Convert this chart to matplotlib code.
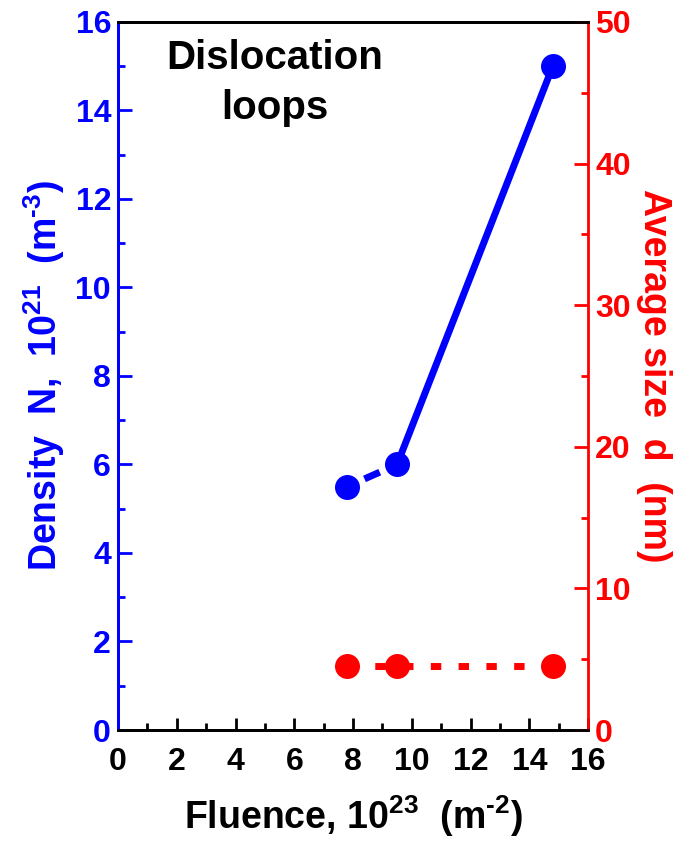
import matplotlib
matplotlib.use('Agg')
import matplotlib.pyplot as plt

plt.rcParams['font.family'] = ['Liberation Sans', 'DejaVu Sans']
plt.rcParams['font.weight'] = 'bold'
plt.rcParams['mathtext.fontset'] = 'custom'
plt.rcParams['mathtext.rm'] = 'Liberation Sans:bold'
plt.rcParams['mathtext.default'] = 'rm'

fluence = [7.8, 9.5, 14.8]          # 10^23 m^-2
density = [5.5, 6.0, 15.0]          # 10^21 m^-3
size_nm = [4.5, 4.5, 4.5]           # nm

x_ticks = [0, 2, 4, 6, 8, 10, 12, 14, 16]
n_ticks = [0, 2, 4, 6, 8, 10, 12, 14, 16]
d_ticks = [0, 10, 20, 30, 40, 50]

blue = '#0000ff'
red = '#ff0000'

fig = plt.figure(figsize=(6.83, 8.42), dpi=100)
ax = fig.add_axes([0.1728, 0.133, 0.6882, 0.841])
ax2 = ax.twinx()

# density: dashed first segment, solid afterwards
ax.plot(fluence[:2], density[:2], color=blue, lw=5, ls=(1.27, (2.4, 1.6)))
ax.plot(fluence[1:], density[1:], color=blue, lw=5, ls='-')
ax.plot(fluence, density, 'o', color=blue, ms=18, mec='none')

# average size
ax2.plot(fluence, size_nm, color=red, lw=5, ls=(0, (1.5, 2.5)))
ax2.plot(fluence, size_nm, 'o', color=red, ms=18, mec='none')

ax.set_xlim(0, 16)
ax.set_ylim(0, 16)
ax2.set_ylim(0, 50)
ax.set_xticks(x_ticks)
ax.set_xticks([1, 3, 5, 7, 9, 11, 13, 15], minor=True)
ax.set_yticks(n_ticks)
ax.set_yticks([1, 3, 5, 7, 9, 11, 13, 15], minor=True)
ax2.set_yticks(d_ticks)
ax2.set_yticks([5, 15, 25, 35, 45], minor=True)

ax.tick_params(axis='x', which='both', direction='in', colors='black', labelsize=23, width=2, pad=12)
ax.tick_params(axis='x', which='major', length=9)
ax.tick_params(axis='x', which='minor', length=5)
ax.tick_params(axis='y', which='both', direction='in', colors=blue, labelsize=23, width=2, pad=5)
ax.tick_params(axis='y', which='major', length=10)
ax.tick_params(axis='y', which='minor', length=5)
ax2.tick_params(axis='y', which='both', direction='in', colors=red, labelsize=23, width=2, pad=5)
ax2.tick_params(axis='y', which='major', length=10)
ax2.tick_params(axis='y', which='minor', length=5)
for lab in ax.get_xticklabels() + ax.get_yticklabels() + ax2.get_yticklabels():
    lab.set_fontweight('bold')

for a in (ax, ax2):
    a.spines['top'].set_color('black')
    a.spines['bottom'].set_color('black')
    for s in a.spines.values():
        s.set_linewidth(2)
ax.spines['left'].set_color(blue)
ax2.spines['left'].set_color(blue)
ax2.spines['right'].set_color(red)
ax.spines['right'].set_visible(False)

ax.set_xlabel(r'Fluence, 10$^{23}$  (m$^{\text{-}2}$)', fontsize=27, fontweight='bold', labelpad=12)
ax.set_ylabel(r'Density  N,  10$^{21}$  (m$^{\text{-}3}$)', fontsize=27, fontweight='bold', color=blue, labelpad=6)
ax2.set_ylabel('Average size  d  (nm)', fontsize=27, fontweight='bold', color=red,
               rotation=270, labelpad=30)

ax.text(0.334, 0.914, 'Dislocation\nloops', transform=ax.transAxes, ha='center', va='center',
        fontsize=29, fontweight='bold', linespacing=1.4)

fig.savefig('out.png', dpi=100)
